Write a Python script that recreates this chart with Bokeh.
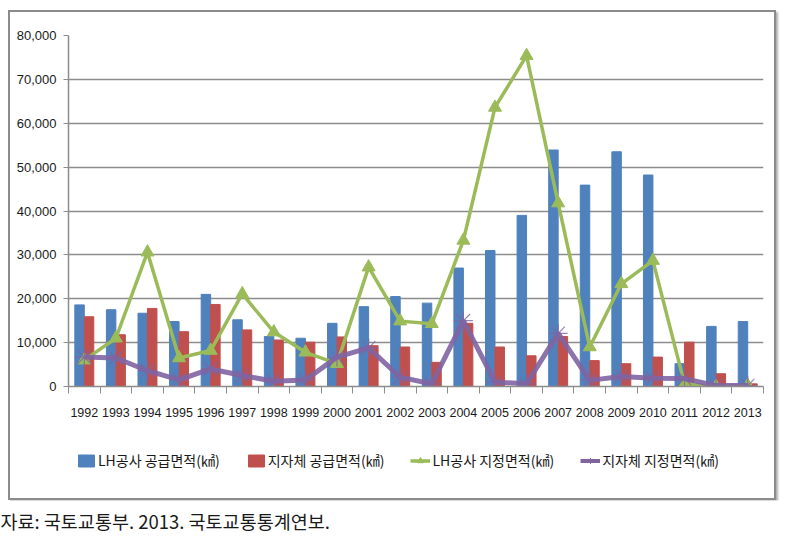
from bokeh.plotting import figure
from bokeh.layouts import column
from bokeh.models import (ColumnDataSource, Range1d, FixedTicker, NumeralTickFormatter,
                          Legend, LegendItem, Label)
from bokeh.transform import dodge
from bokeh.embed import file_html
from bokeh.resources import INLINE

years = ['1992', '1993', '1994', '1995', '1996', '1997', '1998', '1999', '2000', '2001', '2002',
         '2003', '2004', '2005', '2006', '2007', '2008', '2009', '2010', '2011', '2012', '2013']
lh_supply = [18600, 17500, 16700, 14800, 21000, 15200, 11400, 11000, 14400, 18200, 20500,
             19000, 27000, 31000, 39000, 53900, 45900, 53500, 48200, 5200, 13700, 14800]
local_supply = [15900, 11800, 17800, 12500, 18700, 12900, 10600, 10100, 11300, 9300, 9000,
                5500, 14400, 9000, 7000, 11400, 5900, 5200, 6700, 10100, 2900, 600]
lh_designated = [6000, 11000, 30600, 6500, 8200, 21100, 12400, 7800, 5200, 27200, 14900,
                 14300, 33300, 63600, 75400, 41800, 9000, 23400, 28700, 600, 0, 200]
local_designated = [6700, 6500, 3600, 1500, 4000, 2500, 1200, 1500, 6700, 8800, 2100,
                    600, 15000, 1000, 600, 12100, 1400, 2300, 1900, 1800, 200, 200]
y_ticks = [0, 10000, 20000, 30000, 40000, 50000, 60000, 70000, 80000]
labels = ['LH공사 공급면적(㎢)', '지자체 공급면적(㎢)', 'LH공사 지정면적(㎢)', '지자체 지정면적(㎢)']
footer = '자료: 국토교통부. 2013. 국토교통통계연보.'

idx = list(range(len(years)))
src = ColumnDataSource(dict(x=idx, lh_s=lh_supply, lo_s=local_supply,
                            lh_d=lh_designated, lo_d=local_designated))

BLUE, RED, GREEN, PURPLE = '#4F81BD', '#C0504D', '#9BBB59', '#8064A2'
GRID = '#8c8c8c'
FONT = 'Liberation Sans'
KFONT = 'Noto Sans CJK KR'

p = figure(width=764, height=412, output_backend='svg', toolbar_location=None,
           x_range=Range1d(-0.5, len(years) - 0.5), y_range=Range1d(0, y_ticks[-1]),
           min_border_left=58, min_border_right=11, min_border_top=23, min_border_bottom=38)
p.outline_line_color = None

p.vbar(x=dodge('x', -0.15), top='lh_s', width=0.3, source=src, color=BLUE)
p.vbar(x=dodge('x', 0.15), top='lo_s', width=0.3, source=src, color=RED)
p.line('x', 'lh_d', source=src, color=GREEN, line_width=3.5)
p.scatter('x', 'lh_d', source=src, marker='triangle', size=13, color=GREEN)
p.line('x', 'lo_d', source=src, color=PURPLE, line_width=5, line_alpha=0.9)
p.scatter('x', 'lo_d', source=src, marker='asterisk', size=19, line_color=PURPLE,
          line_width=1.2, line_alpha=0.8)

# x axis
xa = p.xaxis[0]
xa.ticker = FixedTicker(ticks=idx, minor_ticks=[i - 0.5 for i in range(len(years) + 1)])
xa.major_label_overrides = {i: y for i, y in enumerate(years)}
xa.major_tick_out = 0
xa.major_tick_in = 0
xa.minor_tick_out = 7
xa.minor_tick_in = 0
xa.minor_tick_line_color = GRID
xa.axis_line_color = GRID
xa.axis_line_width = 1.5
xa.major_label_standoff = 14
xa.major_label_text_font = FONT
xa.major_label_text_font_size = '12.5px'
xa.major_label_text_color = '#1a1a1a'
p.xgrid.visible = False

# y axis
ya = p.yaxis[0]
ya.ticker = FixedTicker(ticks=y_ticks)
ya.formatter = NumeralTickFormatter(format='0,0')
ya.major_tick_out = 5
ya.major_tick_in = 0
ya.minor_tick_out = 0
ya.minor_tick_in = 0
ya.major_tick_line_color = GRID
ya.axis_line_color = GRID
ya.axis_line_width = 1.5
ya.major_label_standoff = 7
ya.major_label_text_font = FONT
ya.major_label_text_font_size = '13px'
ya.major_label_text_color = '#1a1a1a'
p.ygrid.ticker = FixedTicker(ticks=y_ticks)
p.ygrid.grid_line_color = GRID
p.ygrid.grid_line_width = 1.5

# legend panel (own small figure; legend glyphs come from sources holding no drawable point)
leg = figure(width=764, height=74, output_backend='svg', toolbar_location=None,
             x_axis_type=None, y_axis_type=None, x_range=Range1d(0, 1), y_range=Range1d(0, 1),
             min_border_left=0, min_border_right=0, min_border_top=0, min_border_bottom=0)
leg.outline_line_color = None
leg.xgrid.visible = False
leg.ygrid.visible = False
nan = float('nan')
hidden = ColumnDataSource(dict(x=[nan], y=[nan]))
l_b = leg.vbar(x='x', top='y', width=1, source=hidden, color=BLUE)
l_r = leg.vbar(x='x', top='y', width=1, source=hidden, color=RED)
l_gl = leg.line('x', 'y', source=hidden, color=GREEN, line_width=3.5)
l_gm = leg.scatter('x', 'y', source=hidden, marker='triangle', color=GREEN)
l_pl = leg.line('x', 'y', source=hidden, color=PURPLE, line_width=4)
l_pm = leg.scatter('x', 'y', source=hidden, marker='asterisk', line_color=PURPLE)
legend = Legend(items=[LegendItem(label=labels[0], renderers=[l_b]),
                       LegendItem(label=labels[1], renderers=[l_r]),
                       LegendItem(label=labels[2], renderers=[l_gl, l_gm]),
                       LegendItem(label=labels[3], renderers=[l_pl, l_pm])],
                orientation='horizontal', location=(8, 28),
                label_text_font=KFONT, label_text_font_size='14px', label_text_color='#1a1a1a',
                glyph_width=20, glyph_height=15, label_standoff=2, spacing=26,
                padding=0, margin=0, border_line_color=None, background_fill_alpha=0)
leg.add_layout(legend, 'center')

boxed = column(p, leg, spacing=0, margin=(10, 0, 0, 8),
               styles={'border': '2px solid #8c8c8c', 'box-shadow': '2px 2px 2px #b0b0b0'})

foot = figure(width=780, height=34, output_backend='svg', toolbar_location=None,
              x_axis_type=None, y_axis_type=None,
              min_border_left=0, min_border_right=0, min_border_top=0, min_border_bottom=0)
foot.outline_line_color = None
foot.xgrid.visible = False
foot.ygrid.visible = False
foot.add_layout(Label(x=0, y=14, x_units='screen', y_units='screen', text=footer,
                      text_font=KFONT, text_font_size='18.5px', text_baseline='middle',
                      text_color='#1a1a1a'))

layout = column(boxed, foot, spacing=0)
open('out.html', 'w').write(file_html(layout, INLINE))
